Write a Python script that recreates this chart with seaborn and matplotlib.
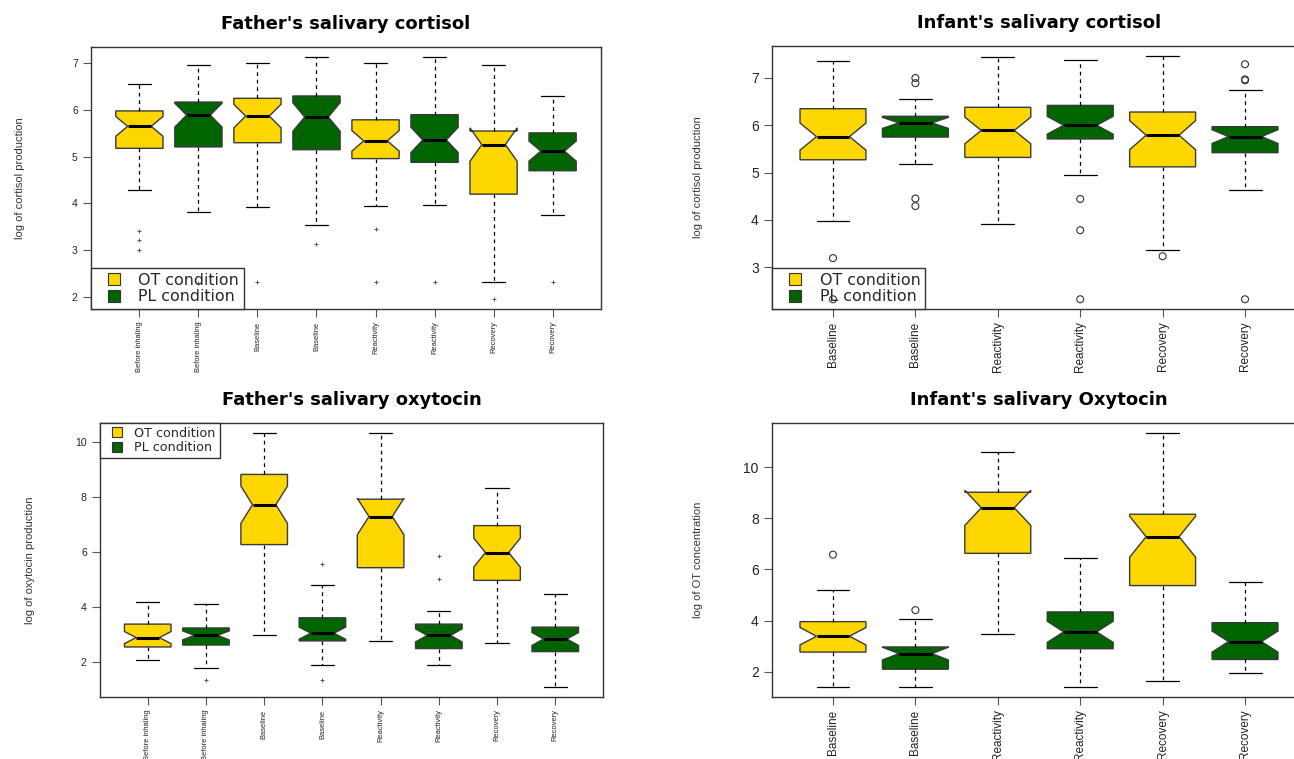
import numpy as np
import pandas as pd
import matplotlib
matplotlib.use("Agg")
import matplotlib.pyplot as plt
from matplotlib.lines import Line2D
import seaborn as sns

PALETTE = {"OT": "#FFD700", "PL": "#006400"}

# Father's salivary cortisol
FC_LABELS = ["Before inhaling", "Before inhaling", "Baseline", "Baseline",
             "Reactivity", "Reactivity", "Recovery", "Recovery"]
FC_COND = ["OT", "PL", "OT", "PL", "OT", "PL", "OT", "PL"]
FC_LOW = [4.28, 3.81, 3.93, 3.53, 3.94, 3.96, 2.31, 3.75]
FC_Q1 = [5.18, 5.21, 5.30, 5.15, 4.96, 4.88, 4.20, 4.70]
FC_MED = [5.65, 5.89, 5.87, 5.85, 5.34, 5.36, 5.26, 5.12]
FC_Q3 = [5.98, 6.17, 6.25, 6.30, 5.79, 5.90, 5.55, 5.51]
FC_HIGH = [6.55, 6.97, 7.01, 7.14, 7.00, 7.13, 6.97, 6.30]
FC_OUT_BOX = [0, 0, 0, 1, 2, 3, 4, 4, 5, 6, 7]
FC_OUT_VAL = [3.42, 3.22, 3.00, 2.30, 2.31, 3.14, 3.45, 2.31, 2.31, 1.95, 2.31]

# Infant's salivary cortisol
IC_LABELS = ["Baseline", "Baseline", "Reactivity", "Reactivity", "Recovery", "Recovery"]
IC_COND = ["OT", "PL", "OT", "PL", "OT", "PL"]
IC_LOW = [3.97, 5.18, 3.92, 4.94, 3.36, 4.64]
IC_Q1 = [5.27, 5.75, 5.32, 5.71, 5.12, 5.42]
IC_MED = [5.76, 6.05, 5.89, 6.00, 5.79, 5.76]
IC_Q3 = [6.35, 6.19, 6.38, 6.42, 6.28, 5.97]
IC_HIGH = [7.36, 6.56, 7.45, 7.38, 7.47, 6.74]
IC_OUT_BOX = [0, 0, 1, 1, 1, 1, 3, 3, 3, 4, 5, 5, 5, 5]
IC_OUT_VAL = [3.19, 2.32, 7.00, 6.89, 4.45, 4.29, 4.44, 3.78, 2.32, 3.23, 7.29, 6.95, 6.97, 2.32]

# Father's salivary oxytocin
FO_LABELS = FC_LABELS
FO_COND = FC_COND
FO_LOW = [2.07, 1.79, 3.00, 1.92, 2.78, 1.92, 2.69, 1.11]
FO_Q1 = [2.56, 2.63, 6.28, 2.78, 5.44, 2.50, 4.98, 2.39]
FO_MED = [2.90, 2.98, 7.73, 3.06, 7.30, 2.98, 5.99, 2.85]
FO_Q3 = [3.39, 3.25, 8.83, 3.62, 7.93, 3.39, 6.97, 3.28]
FO_HIGH = [4.21, 4.13, 10.33, 4.81, 10.33, 3.87, 8.32, 4.49]
FO_OUT_BOX = [1, 3, 3, 5, 5]
FO_OUT_VAL = [1.36, 5.57, 1.36, 5.87, 5.04]

# Infant's salivary oxytocin
IO_LABELS = IC_LABELS
IO_COND = IC_COND
IO_LOW = [1.41, 1.41, 3.49, 1.41, 1.62, 1.96]
IO_Q1 = [2.77, 2.10, 6.63, 2.90, 5.37, 2.48]
IO_MED = [3.39, 2.71, 8.41, 3.56, 7.28, 3.18]
IO_Q3 = [3.96, 2.97, 9.02, 4.34, 8.16, 3.92]
IO_HIGH = [5.18, 4.07, 10.60, 6.44, 11.33, 5.50]
IO_OUT_BOX = [0, 1]
IO_OUT_VAL = [6.58, 4.41]

WIDE = ["DejaVu Sans"]


def panel(ax, title, ylabel, labels, cond, low, q1, med, q3, high,
          out_box, out_val, reps, yticks, big, legend_loc, circles):
    keys = [f"{lab} ({c})" for lab, c in zip(labels, cond)]
    rows = []
    # each five-number summary is repeated so that n (and so the notch) fits the original
    for i, k in enumerate(keys):
        for v in np.repeat([low[i], q1[i], med[i], q3[i], high[i]], reps):
            rows.append({"key": k, "cond": cond[i], "value": v})
    df = pd.DataFrame(rows)

    sns.boxplot(
        data=df, x="key", y="value", hue="cond", order=keys,
        palette=PALETTE, saturation=1, dodge=False, width=0.8,
        whis=np.inf, linecolor="#3a3a3a", linewidth=1.0, legend=False,
        shownotches=True, ax=ax,
        medianprops={"color": "black", "linewidth": 2.2},
        whiskerprops={"color": "black", "linewidth": 0.9, "linestyle": (0, (3, 3))},
        capprops={"color": "black", "linewidth": 0.9},
    )

    n_before = len(ax.collections)
    out = pd.DataFrame({"key": [keys[i] for i in out_box], "value": out_val})
    sns.stripplot(data=out, x="key", y="value", order=keys, jitter=False,
                  marker="o" if circles else "+", size=5 if circles else 3.5,
                  color="#333333", ax=ax)
    for pts in ax.collections[n_before:]:
        if circles:
            pts.set_facecolor("none")
            pts.set_edgecolor("#333333")
            pts.set_linewidth(0.8)
        else:
            pts.set_edgecolor("#555555")
            pts.set_linewidth(0.7)
        pts.set_zorder(6)

    allv = list(low) + list(high) + list(out_val)
    lo, hi = min(allv), max(allv)
    pad = 0.04 * (hi - lo)
    ax.set_ylim(lo - pad, hi + pad)
    n = len(keys)
    ax.set_xlim(-0.5 - 0.04 * n, n - 0.5 + 0.04 * n)
    ax.set_yticks(yticks)
    ax.set_yticklabels([str(t) for t in yticks], fontsize=10 if big else 7.5,
                       color="#222222")
    ax.set_xticks(range(n))
    ax.set_xticklabels(labels, rotation=90, fontsize=8.5 if big else 5.4,
                       color="#222222")
    ax.set_xlabel("")
    ax.set_ylabel(ylabel, fontsize=8, color="#333333")
    ax.yaxis.set_label_coords(-0.13, 0.5)
    ax.set_title(title, fontsize=13, fontweight="bold", pad=13, family=WIDE,
                 color="black")
    ax.tick_params(direction="out", length=6, width=0.8, color="#555555",
                   top=False, right=False)
    ax.tick_params(axis="x", pad=3)
    for s in ax.spines.values():
        s.set_color("#333333")
        s.set_linewidth(1.0)

    if legend_loc:
        small = legend_loc == "upper left"
        handles = [
            Line2D([], [], linestyle="none", marker="s", markersize=6.5 if small else 8,
                   markerfacecolor=PALETTE[c], markeredgecolor="#333333",
                   markeredgewidth=0.8, label=f"{c} condition")
            for c in ["OT", "PL"]
        ]
        leg = ax.legend(handles=handles, loc=legend_loc, borderaxespad=0,
                        fancybox=False, framealpha=1, edgecolor="#333333",
                        prop={"family": WIDE, "size": 9.2 if small else 11.4},
                        handlelength=2.0 if small else 2.3, labelspacing=0.1,
                        handletextpad=0.4, borderpad=0.3)
        leg.get_frame().set_linewidth(1.0)
        leg.set_zorder(5)


def main():
    sns.set_theme(style="ticks")
    plt.rcParams["font.family"] = ["Liberation Sans", "DejaVu Sans"]
    fig = plt.figure(figsize=(12.94, 7.59), dpi=100)
    W, H = 1294, 759

    def box(x0, y0, x1, y1):
        return [x0 / W, (H - y1) / H, (x1 - x0) / W, (y1 - y0) / H]

    ax1 = fig.add_axes(box(91, 47, 601, 309))
    ax2 = fig.add_axes(box(772, 46, 1306, 309))
    ax3 = fig.add_axes(box(100, 423, 603, 697))
    ax4 = fig.add_axes(box(772, 423, 1306, 697))

    panel(ax1, "Father's salivary cortisol", "log of cortisol production",
          FC_LABELS, FC_COND, FC_LOW, FC_Q1, FC_MED, FC_Q3, FC_HIGH,
          FC_OUT_BOX, FC_OUT_VAL, 7, [2, 3, 4, 5, 6, 7], False, "lower left", False)
    panel(ax2, "Infant's salivary cortisol", "log of cortisol production",
          IC_LABELS, IC_COND, IC_LOW, IC_Q1, IC_MED, IC_Q3, IC_HIGH,
          IC_OUT_BOX, IC_OUT_VAL, 7, [3, 4, 5, 6, 7], True, "lower left", True)
    panel(ax3, "Father's salivary oxytocin", "log of oxytocin production",
          FO_LABELS, FO_COND, FO_LOW, FO_Q1, FO_MED, FO_Q3, FO_HIGH,
          FO_OUT_BOX, FO_OUT_VAL, 7, [2, 4, 6, 8, 10], False, "upper left", False)
    panel(ax4, "Infant's salivary Oxytocin", "log of OT concentration",
          IO_LABELS, IO_COND, IO_LOW, IO_Q1, IO_MED, IO_Q3, IO_HIGH,
          IO_OUT_BOX, IO_OUT_VAL, 6, [2, 4, 6, 8, 10], True, None, True)

    fig.savefig("out.png", dpi=100, facecolor="white")
    plt.close(fig)


if __name__ == "__main__":
    main()
